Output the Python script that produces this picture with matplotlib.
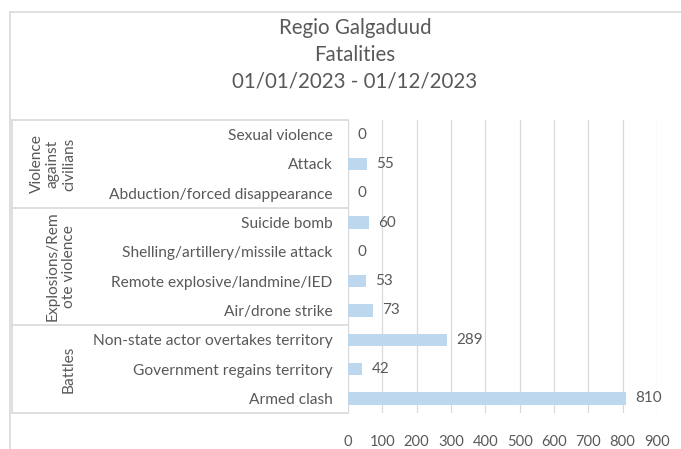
import numpy as np
import matplotlib.pyplot as plt
from matplotlib.lines import Line2D

# data, top to bottom as in the chart
categories = ["Sexual violence", "Attack", "Abduction/forced disappearance",
              "Suicide bomb", "Shelling/artillery/missile attack",
              "Remote explosive/landmine/IED", "Air/drone strike",
              "Non-state actor overtakes territory", "Government regains territory",
              "Armed clash"]
fatalities = [0, 55, 0, 60, 0, 53, 73, 289, 42, 810]
groups = ["Violence\nagainst\ncivilians", "Explosions/Rem\note violence", "Battles"]
group_sizes = [3, 4, 3]
title_lines = ["Regio Galgaduud", "Fatalities", "01/01/2023 - 01/12/2023"]

plt.rcParams['font.family'] = ['Lato', 'DejaVu Sans']
txt = '#595959'
grid_c = '#D9D9D9'
bar_c = '#BDD7EE'

W, H = 681, 449
fig = plt.figure(figsize=(W / 100, H / 100), dpi=100)

def fx(px):
    return px / W

def fy(py):
    return 1 - py / H

# plot area in pixels
left, right, top, bottom = 348, 657, 120, 413
ax = fig.add_axes([fx(left), fy(bottom), fx(right - left), (bottom - top) / H])

n = len(categories)
y = np.arange(n)[::-1]
ax.barh(y, fatalities, height=0.42, color=bar_c, zorder=3)
for yi, v in zip(y, fatalities):
    ax.text(v + 27, yi, str(v), va='center', ha='left', fontsize=11, color=txt)

ax.set_xlim(0, 900)
ax.set_ylim(-0.5, n - 0.5)
ax.set_xticks(np.arange(0, 1000, 100))
ax.set_yticks(y)
ax.set_yticklabels(categories)
ax.tick_params(axis='y', length=0, labelsize=11.2, labelcolor=txt, pad=11)
ax.tick_params(axis='x', length=0, labelsize=10.6, labelcolor=txt, pad=16)
ax.grid(axis='x', color=grid_c, linewidth=0.9, zorder=0)
for s in ax.spines.values():
    s.set_visible(False)

# outer chart border: only the left and top edges are inside the image
fig.add_artist(Line2D([fx(10), fx(10)], [0, fy(12)], color=grid_c, lw=1.2))
fig.add_artist(Line2D([fx(10), 1], [fy(12), fy(12)], color=grid_c, lw=1.2))

# category table lines
row_h = (bottom - top) / n
fig.add_artist(Line2D([fx(12), fx(12)], [fy(top), fy(bottom)], color=grid_c, lw=1.2))
edge = top
fig.add_artist(Line2D([fx(12), fx(left)], [fy(edge), fy(edge)], color=grid_c, lw=1.2))
for g, size in zip(groups, group_sizes):
    start = edge
    edge = edge + size * row_h
    fig.add_artist(Line2D([fx(12), fx(left)], [fy(edge), fy(edge)], color=grid_c, lw=1.2))
    fig.text(fx(76), fy((start + edge) / 2), g, rotation=90, ha='right', va='center',
             multialignment='center', fontsize=11.2, color=txt, linespacing=1.2)

# title
for i, line in enumerate(title_lines):
    fig.text(fx(355), fy(28 + 27 * i), line, ha='center', va='center',
             fontsize=14.8, color=txt)

fig.savefig('out.png', dpi=100)
